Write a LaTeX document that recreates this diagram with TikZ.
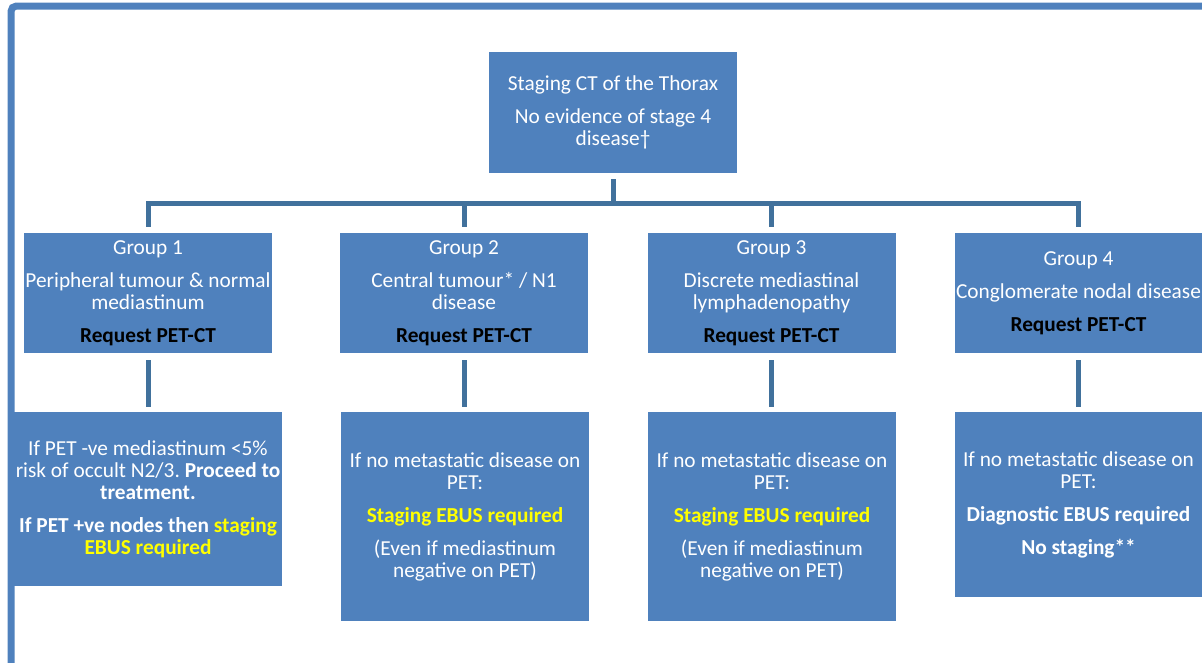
\documentclass[tikz,border=0pt]{standalone}
\usepackage{fontspec}
\setmainfont{Carlito}
\definecolor{boxblue}{HTML}{4F81BD}
\definecolor{connblue}{HTML}{41719C}
\definecolor{hiyellow}{HTML}{FFFF00}
\newcommand{\pgapx}{\\[8.25pt]}
\frenchspacing
\begin{document}
\begin{tikzpicture}[x=0.75pt,y=-0.75pt,
  box/.style={fill=boxblue,text=white,align=center,inner xsep=0pt,inner ysep=0pt,
    font=\fontsize{16}{16.5}\selectfont},
  conn/.style={draw=connblue,line width=3.75pt},
  upconn/.style={conn,shorten <=4.5pt,shorten >=4.5pt},
  loconn/.style={conn,shorten <=5.25pt,shorten >=3.75pt},
]
\useasboundingbox (0,0) rectangle (1202,662);
\clip (0,0) rectangle (1202,662);
\draw[draw=boxblue,line width=5.25pt,rounded corners=4pt] (11,690) -- (11,6) -- (1230,6);

\node[box,minimum width=186pt,minimum height=90.75pt] (top) at (613,112.5)
  {Staging CT of the Thorax\pgapx No evidence of stage 4\\ disease†};

\node[box,minimum width=186pt,minimum height=90pt] (g1) at (148,293)
  {Group 1\pgapx Peripheral tumour \& normal\\ mediastinum\pgapx \textcolor{black}{\bfseries Request PET-CT}};
\node[box,minimum width=186pt,minimum height=90pt] (g2) at (464,293)
  {Group 2\pgapx Central tumour* / N1\\ disease\pgapx \textcolor{black}{\bfseries Request PET-CT}};
\node[box,minimum width=186pt,minimum height=90pt] (g3) at (771.5,293)
  {Group 3\pgapx Discrete mediastinal\\ lymphadenopathy\pgapx \textcolor{black}{\bfseries Request PET-CT}};
\node[box,minimum width=186pt,minimum height=90pt] (g4) at (1078.5,293)
  {Group 4\pgapx Conglomerate nodal disease\pgapx \textcolor{black}{\bfseries Request PET-CT}};

\node[box,minimum width=201pt,minimum height=130.5pt] (b1) at (148,499)
  {If PET -ve mediastinum <5\%\\ risk of occult N2/3. \textbf{Proceed to}\\ \textbf{treatment.}\pgapx
   \textbf{If PET +ve nodes then \textcolor{hiyellow}{staging}}\\ \textbf{\textcolor{hiyellow}{EBUS required}}};
\node[box,minimum width=186pt,minimum height=156.75pt] (b2) at (465,516.5)
  {If no metastatic disease on\\ PET:\pgapx \textbf{\textcolor{hiyellow}{Staging EBUS required}}\pgapx (Even if mediastinum\\ negative on PET)};
\node[box,minimum width=186pt,minimum height=156.75pt] (b3) at (772,516.5)
  {If no metastatic disease on\\ PET:\pgapx \textbf{\textcolor{hiyellow}{Staging EBUS required}}\pgapx (Even if mediastinum\\ negative on PET)};
\node[box,minimum width=186pt,minimum height=138.75pt] (b4) at (1078.5,504.5)
  {If no metastatic disease on\\ PET:\pgapx \textbf{Diagnostic EBUS required}\pgapx \textbf{No staging**}};

\draw[upconn] (top.south) -- ++(0,30) -| (g1.north);
\draw[upconn] (top.south) -- ++(0,30) -| (g2.north);
\draw[upconn] (top.south) -- ++(0,30) -| (g3.north);
\draw[upconn] (top.south) -- ++(0,30) -| (g4.north);

\draw[loconn] (g1.south) -- (g1.south |- b1.north);
\draw[loconn] (g2.south) -- (g2.south |- b2.north);
\draw[loconn] (g3.south) -- (g3.south |- b3.north);
\draw[loconn] (g4.south) -- (g4.south |- b4.north);
\end{tikzpicture}
\end{document}
